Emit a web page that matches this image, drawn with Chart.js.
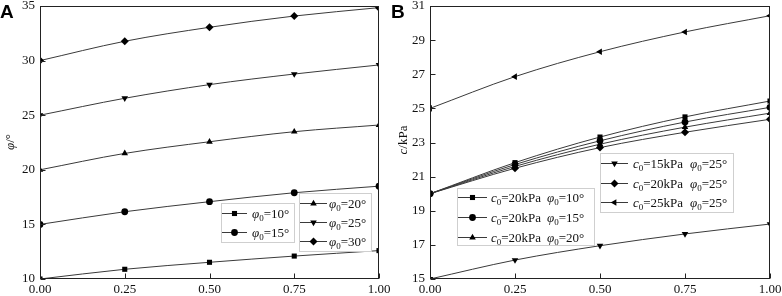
<!DOCTYPE html>
<html>
<head>
<meta charset="utf-8">
<script src="https://cdn.jsdelivr.net/npm/chart.js@4.4.1/dist/chart.umd.min.js"></script>
<style>
  html, body { margin: 0; padding: 0; background: #fff; }
  #wrap { position: relative; width: 782px; height: 296px; }
  #chartA { position: absolute; left: 0; top: 0; }
  #chartB { position: absolute; left: 390px; top: 0; }
</style>
</head>
<body>
<div id="wrap">
  <canvas id="chartA" width="390" height="296"></canvas>
  <canvas id="chartB" width="392" height="296"></canvas>
</div>
<script>
// x positions shared by both panels
const xValues = [0, 0.25, 0.5, 0.75, 1.0];

// panel A: phi vs x for several phi0
const phi0List = [10, 15, 20, 25, 30];
const phiA10 = [10, 10.89, 11.53, 12.10, 12.60];
const phiA15 = [15, 16.16, 17.08, 17.90, 18.50];
const phiA20 = [20, 21.50, 22.57, 23.49, 24.10];
const phiA25 = [25, 26.55, 27.80, 28.77, 29.60];
const phiA30 = [30, 31.77, 33.05, 34.08, 34.85];

// panel B: c vs x for (c0, phi0) pairs
const c0List = [20, 20, 20, 15, 20, 25];
const phi0ListB = [10, 15, 20, 25, 25, 25];
const cB20p10 = [20, 21.82, 23.32, 24.50, 25.43];
const cB20p15 = [20, 21.71, 23.10, 24.20, 25.06];
const cB20p20 = [20, 21.60, 22.90, 23.90, 24.72];
const cB15p25 = [15, 16.11, 16.95, 17.64, 18.22];
const cB20p25 = [20, 21.49, 22.70, 23.60, 24.36];
const cB25p25 = [25, 26.86, 28.32, 29.48, 30.43];

const yTicksA = { min: 10, max: 35, step: 5 };
const yTicksB = { min: 15, max: 31, step: 2 };

// marker styles
const markers = {
  square:   { pointStyle: "rect", radius: 3.6, rotation: 0 },
  circle:   { pointStyle: "circle", radius: 3.4, rotation: 0 },
  up:       { pointStyle: "triangle", radius: 3.8, rotation: 0 },
  down:     { pointStyle: "triangle", radius: 3.8, rotation: 180 },
  diamond:  { pointStyle: "rectRot", radius: 4, rotation: 0 },
  left:     { pointStyle: "triangle", radius: 3.8, rotation: 270 },
};

const SERIF = '"Liberation Serif", "Times New Roman", serif';
const LINE = "#3a3a3a";

const toPoints = (vals) => xValues.map((x, i) => ({ x: x, y: vals[i] }));

const makeDataset = (vals, m, legend) => ({
  data: toPoints(vals),
  borderColor: LINE,
  borderWidth: 1,
  backgroundColor: "#000",
  pointBackgroundColor: "#000",
  pointBorderColor: "#000",
  pointBorderWidth: 0,
  pointStyle: m.pointStyle,
  pointRadius: m.radius,
  pointRotation: m.rotation,
  cubicInterpolationMode: "monotone",
  clip: 0,
  legendParts: legend,
});

const phiLabel = (p) => [["φ", "i"], ["0", "s"], ["=" + p + "°", "n"]];
const cLabel = (c) => [["c", "i"], ["0", "s"], ["=" + c + "kPa", "n"]];

// rich text: segments of [text, kind] where kind is n / i / s
const segFont = (kind) =>
  kind === "i" ? "italic 13px " + SERIF : kind === "s" ? "9px " + SERIF : "13px " + SERIF;

const richWidth = (ctx, segs) =>
  segs.reduce((w, s) => {
    ctx.font = segFont(s[1]);
    return w + ctx.measureText(s[0]).width;
  }, 0);

const drawRich = (ctx, x, y, segs) => {
  ctx.textBaseline = "alphabetic";
  ctx.textAlign = "left";
  segs.forEach((s) => {
    ctx.font = segFont(s[1]);
    ctx.fillText(s[0], x, s[1] === "s" ? y + 3 : y);
    x += ctx.measureText(s[0]).width;
  });
};

const drawMarker = (ctx, m, x, y) => {
  ctx.fillStyle = "#000";
  ctx.strokeStyle = "#000";
  ctx.lineWidth = 0;
  Chart.helpers.drawPoint(
    ctx,
    { pointStyle: m.pointStyle, radius: m.radius, rotation: m.rotation, borderWidth: 0 },
    x,
    y
  );
};

const decor = {
  id: "decor",
  afterDraw(chart, args, opts) {
    const ctx = chart.ctx;
    const a = chart.chartArea;
    const xs = chart.scales.x;
    const ys = chart.scales.y;
    ctx.save();

    // frame
    ctx.strokeStyle = "#222";
    ctx.lineWidth = 1;
    const l = Math.round(a.left) + 0.5, t = Math.round(a.top) + 0.5;
    const r = Math.round(a.right) - 0.5, b = Math.round(a.bottom) - 0.5;
    ctx.strokeRect(l, t, r - l, b - t);

    // inward ticks
    ctx.beginPath();
    xs.ticks.forEach((tk) => {
      const px = Math.round(xs.getPixelForValue(tk.value)) + 0.5;
      ctx.moveTo(px, b);
      ctx.lineTo(px, b - 5);
    });
    ys.ticks.forEach((tk) => {
      const py = Math.round(ys.getPixelForValue(tk.value)) + 0.5;
      ctx.moveTo(l, py);
      ctx.lineTo(l + 5, py);
    });
    ctx.stroke();

    // panel letter
    ctx.fillStyle = "#000";
    ctx.font = 'bold 19px "Liberation Sans", Arial, sans-serif';
    ctx.textBaseline = "alphabetic";
    ctx.textAlign = "left";
    ctx.fillText(opts.letter, opts.letterX, 18);

    // y title, rotated
    ctx.save();
    ctx.translate(opts.titleX, opts.titleY);
    ctx.rotate(-Math.PI / 2);
    ctx.fillStyle = "#111";
    drawRich(ctx, -richWidth(ctx, opts.title) / 2, 4, opts.title);
    ctx.restore();

    // legend boxes
    opts.legends.forEach((box) => {
      ctx.fillStyle = "#fff";
      ctx.fillRect(box.x, box.y, box.w, box.h);
      ctx.strokeStyle = "#cfcfcf";
      ctx.lineWidth = 1;
      ctx.strokeRect(box.x + 0.5, box.y + 0.5, box.w, box.h);
      const n = box.items.length;
      box.items.forEach((di, k) => {
        const ds = chart.data.datasets[di];
        const cy = Math.round(box.y + box.h / 2 + (k - (n - 1) / 2) * box.gap) + 0.5;
        ctx.strokeStyle = LINE;
        ctx.beginPath();
        ctx.moveTo(box.x + 1, cy);
        ctx.lineTo(box.x + 1 + box.lineLen, cy);
        ctx.stroke();
        drawMarker(
          ctx,
          { pointStyle: ds.pointStyle, radius: ds.pointRadius, rotation: ds.pointRotation },
          box.x + 1 + box.lineLen / 2,
          cy
        );
        ctx.fillStyle = "#111";
        const parts = ds.legendParts;
        if (parts.length === 2) {
          drawRich(ctx, box.x + box.textX, cy + 4.5, parts[0]);
          drawRich(ctx, box.x + box.textX + box.col2, cy + 4.5, parts[1]);
        } else {
          drawRich(ctx, box.x + box.textX, cy + 4.5, parts[0]);
        }
      });
    });

    ctx.restore();
  },
};

const makeOptions = (yt, pad, decorOpts) => ({
  responsive: false,
  animation: false,
  events: [],
  layout: { padding: pad },
  scales: {
    x: {
      type: "linear",
      min: 0,
      max: 1,
      grid: { display: false, drawTicks: false },
      border: { display: false },
      ticks: {
        stepSize: 0.25,
        padding: 3,
        color: "#111",
        font: { family: SERIF, size: 13 },
        maxRotation: 0,
        callback: (v) => v.toFixed(2),
      },
      afterFit: (s) => {
        s.height = 17;
        s.paddingLeft = 0;
        s.paddingRight = 0;
      },
    },
    y: {
      type: "linear",
      min: yt.min,
      max: yt.max,
      grid: { display: false, drawTicks: false },
      border: { display: false },
      ticks: {
        stepSize: yt.step,
        padding: 5,
        color: "#111",
        font: { family: SERIF, size: 13 },
      },
      afterFit: (s) => {
        s.width = 40;
        s.paddingTop = 0;
        s.paddingBottom = 0;
      },
    },
  },
  plugins: {
    legend: { display: false },
    tooltip: { enabled: false },
    decor: decorOpts,
  },
});

// panel A
new Chart(document.getElementById("chartA").getContext("2d"), {
  type: "line",
  data: {
    datasets: [
      makeDataset(phiA10, markers.square, [phiLabel(phi0List[0])]),
      makeDataset(phiA15, markers.circle, [phiLabel(phi0List[1])]),
      makeDataset(phiA20, markers.up, [phiLabel(phi0List[2])]),
      makeDataset(phiA25, markers.down, [phiLabel(phi0List[3])]),
      makeDataset(phiA30, markers.diamond, [phiLabel(phi0List[4])]),
    ],
  },
  options: makeOptions(yTicksA, { left: 0, right: 11, top: 6, bottom: 0 }, {
    letter: "A",
    letterX: 0,
    titleX: 10,
    titleY: 142,
    title: [["φ", "i"], ["/°", "n"]],
    legends: [
      { x: 221, y: 203, w: 73, h: 39, gap: 18.4, items: [0, 1], lineLen: 25, textX: 31, col2: 0 },
      { x: 299, y: 193, w: 72, h: 58, gap: 19, items: [2, 3, 4], lineLen: 27, textX: 30, col2: 0 },
    ],
  }),
  plugins: [decor],
});

// panel B
const labelB = (i) => [cLabel(c0List[i]), phiLabel(phi0ListB[i])];

new Chart(document.getElementById("chartB").getContext("2d"), {
  type: "line",
  data: {
    datasets: [
      makeDataset(cB20p10, markers.square, labelB(0)),
      makeDataset(cB20p15, markers.circle, labelB(1)),
      makeDataset(cB20p20, markers.up, labelB(2)),
      makeDataset(cB15p25, markers.down, labelB(3)),
      makeDataset(cB20p25, markers.diamond, labelB(4)),
      makeDataset(cB25p25, markers.left, labelB(5)),
    ],
  },
  options: makeOptions(yTicksB, { left: 0, right: 12, top: 6, bottom: 0 }, {
    letter: "B",
    letterX: 1,
    titleX: 13,
    titleY: 140,
    title: [["c", "i"], ["/kPa", "n"]],
    legends: [
      { x: 67, y: 188, w: 137, h: 57, gap: 20, items: [0, 1, 2], lineLen: 29, textX: 34, col2: 56 },
      { x: 210, y: 153, w: 133, h: 59, gap: 19.5, items: [3, 4, 5], lineLen: 27, textX: 33, col2: 57 },
    ],
  }),
  plugins: [decor],
});
</script>
</body>
</html>
